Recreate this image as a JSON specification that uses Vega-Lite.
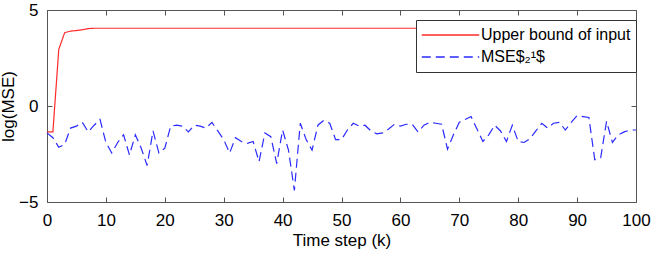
{
  "$schema": "https://vega.github.io/schema/vega-lite/v6.json",
  "autosize": "none",
  "padding": {"left": 47, "top": 10, "right": 20, "bottom": 53},
  "width": 589,
  "height": 192,
  "background": "white",
  "config": {
    "view": {"stroke": "#555555", "strokeWidth": 1},
    "font": "Liberation Sans"
  },
  "data": {"values": [
    {"k":0,"upper":-1.35,"mse":-1.4},{"k":1,"upper":-1.35,"mse":-1.65},{"k":2,"upper":2.95,"mse":-2.15},{"k":3,"upper":3.82,"mse":-2.0},{"k":4,"upper":3.9,"mse":-1.15},
    {"k":5,"upper":3.93,"mse":-1.05},{"k":6,"upper":3.97,"mse":-0.85},{"k":7,"upper":4.03,"mse":-1.35},{"k":8,"upper":4.05,"mse":-1.0},{"k":9,"upper":4.05,"mse":-0.7},
    {"k":10,"upper":4.05,"mse":-1.9},{"k":11,"upper":4.05,"mse":-2.45},{"k":12,"upper":4.05,"mse":-1.9},{"k":13,"upper":4.05,"mse":-1.5},{"k":14,"upper":4.05,"mse":-2.55},
    {"k":15,"upper":4.05,"mse":-1.5},{"k":16,"upper":4.05,"mse":-2.2},{"k":17,"upper":4.05,"mse":-3.1},{"k":18,"upper":4.05,"mse":-1.3},{"k":19,"upper":4.05,"mse":-2.45},
    {"k":20,"upper":4.05,"mse":-2.2},{"k":21,"upper":4.05,"mse":-1.05},{"k":22,"upper":4.05,"mse":-1.0},{"k":23,"upper":4.05,"mse":-1.05},{"k":24,"upper":4.05,"mse":-1.35},
    {"k":25,"upper":4.05,"mse":-1.0},{"k":26,"upper":4.05,"mse":-1.05},{"k":27,"upper":4.05,"mse":-1.15},{"k":28,"upper":4.05,"mse":-0.85},{"k":29,"upper":4.05,"mse":-1.3},
    {"k":30,"upper":4.05,"mse":-1.75},{"k":31,"upper":4.05,"mse":-2.45},{"k":32,"upper":4.05,"mse":-1.65},{"k":33,"upper":4.05,"mse":-1.85},{"k":34,"upper":4.05,"mse":-1.95},
    {"k":35,"upper":4.05,"mse":-1.85},{"k":36,"upper":4.05,"mse":-2.9},{"k":37,"upper":4.05,"mse":-1.4},{"k":38,"upper":4.05,"mse":-1.6},{"k":39,"upper":4.05,"mse":-3.0},
    {"k":40,"upper":4.05,"mse":-1.25},{"k":41,"upper":4.05,"mse":-2.3},{"k":42,"upper":4.05,"mse":-4.4},{"k":43,"upper":4.05,"mse":-0.9},{"k":44,"upper":4.05,"mse":-1.75},
    {"k":45,"upper":4.05,"mse":-2.3},{"k":46,"upper":4.05,"mse":-1.0},{"k":47,"upper":4.05,"mse":-0.75},{"k":48,"upper":4.05,"mse":-0.9},{"k":49,"upper":4.05,"mse":-1.75},
    {"k":50,"upper":4.05,"mse":-1.75},{"k":51,"upper":4.05,"mse":-1.25},{"k":52,"upper":4.05,"mse":-0.9},{"k":53,"upper":4.05,"mse":-1.05},{"k":54,"upper":4.05,"mse":-1.0},
    {"k":55,"upper":4.05,"mse":-1.3},{"k":56,"upper":4.05,"mse":-1.45},{"k":57,"upper":4.05,"mse":-1.4},{"k":58,"upper":4.05,"mse":-1.2},{"k":59,"upper":4.05,"mse":-0.95},
    {"k":60,"upper":4.05,"mse":-1.05},{"k":61,"upper":4.05,"mse":-0.95},{"k":62,"upper":4.05,"mse":-0.95},{"k":63,"upper":4.05,"mse":-1.35},{"k":64,"upper":4.05,"mse":-1.0},
    {"k":65,"upper":4.05,"mse":-0.85},{"k":66,"upper":4.05,"mse":-0.9},{"k":67,"upper":4.05,"mse":-0.95},{"k":68,"upper":4.05,"mse":-2.25},{"k":69,"upper":4.05,"mse":-1.5},
    {"k":70,"upper":4.05,"mse":-0.85},{"k":71,"upper":4.05,"mse":-0.7},{"k":72,"upper":4.05,"mse":-0.55},{"k":73,"upper":4.05,"mse":-1.2},{"k":74,"upper":4.05,"mse":-1.85},
    {"k":75,"upper":4.05,"mse":-1.5},{"k":76,"upper":4.05,"mse":-1.0},{"k":77,"upper":4.05,"mse":-1.3},{"k":78,"upper":4.05,"mse":-1.85},{"k":79,"upper":4.05,"mse":-1.0},
    {"k":80,"upper":4.05,"mse":-1.85},{"k":81,"upper":4.05,"mse":-1.9},{"k":82,"upper":4.05,"mse":-1.7},{"k":83,"upper":4.05,"mse":-1.3},{"k":84,"upper":4.05,"mse":-0.9},
    {"k":85,"upper":4.05,"mse":-1.15},{"k":86,"upper":4.05,"mse":-0.9},{"k":87,"upper":4.05,"mse":-0.85},{"k":88,"upper":4.05,"mse":-1.25},{"k":89,"upper":4.05,"mse":-0.85},
    {"k":90,"upper":4.05,"mse":-0.5},{"k":91,"upper":4.05,"mse":-0.55},{"k":92,"upper":4.05,"mse":-0.6},{"k":93,"upper":4.05,"mse":-2.8},{"k":94,"upper":4.05,"mse":-2.7},
    {"k":95,"upper":4.05,"mse":-0.8},{"k":96,"upper":4.05,"mse":-1.9},{"k":97,"upper":4.05,"mse":-1.5},{"k":98,"upper":4.05,"mse":-1.35},{"k":99,"upper":4.05,"mse":-1.25},
    {"k":100,"upper":4.05,"mse":-1.25}
  ]},
  "transform": [{"fold": ["upper", "mse"], "as": ["series", "value"]}],
  "layer": [
    {
      "mark": {"type": "line", "strokeWidth": 1.2},
      "encoding": {
        "x": {
          "field": "k", "type": "quantitative",
          "scale": {"domain": [0, 100], "nice": false, "zero": false},
          "axis": {"orient": "bottom", "values": [0,10,20,30,40,50,60,70,80,90,100], "title": "Time step (k)",
            "grid": false, "domain": false, "tickSize": -5, "tickColor": "#555555", "labelPadding": 15,
            "labelFontSize": 17, "labelColor": "black", "titleFontSize": 17, "titleFontWeight": "normal", "titleColor": "black", "titlePadding": 4, "labelFlush": false}
        },
        "y": {
          "field": "value", "type": "quantitative",
          "scale": {"domain": [-5, 5], "nice": false},
          "axis": {"orient": "left", "values": [-5, 0, 5], "title": "log(MSE)",
            "grid": false, "domain": false, "tickSize": -5, "tickColor": "#555555", "labelPadding": 14,
            "labelFontSize": 17, "labelColor": "black", "titleFontSize": 17, "titleFontWeight": "normal", "titleColor": "black", "titlePadding": 1}
        },
        "color": {
          "field": "series", "type": "nominal",
          "scale": {"domain": ["upper", "mse"], "range": ["#ff2a2a", "#2a2aff"]},
          "legend": {
            "orient": "none", "legendX": 369, "legendY": 10, "title": null,
            "labelExpr": "datum.value == 'upper' ? 'Upper bound of input' : 'MSE$₂¹$'",
            "symbolType": "stroke", "symbolSize": 3300, "symbolStrokeWidth": 1.5, "clipHeight": 20,
            "labelFontSize": 16, "labelColor": "black", "strokeColor": "#333333", "fillColor": "white",
            "padding": 5, "rowPadding": 2, "labelOffset": 1
          }
        },
        "strokeDash": {
          "field": "series", "type": "nominal",
          "scale": {"domain": ["upper", "mse"], "range": [[1, 0], [9, 5]]},
          "legend": null
        }
      }
    },
    {
      "mark": {"type": "line", "opacity": 0},
      "encoding": {
        "x": {"field": "k", "type": "quantitative",
          "axis": {"orient": "top", "values": [0,10,20,30,40,50,60,70,80,90,100], "labels": false, "title": null, "grid": false, "domain": false, "tickSize": -5, "tickColor": "#555555"}},
        "y": {"field": "value", "type": "quantitative",
          "axis": {"orient": "right", "values": [-5, 0, 5], "labels": false, "title": null, "grid": false, "domain": false, "tickSize": -5, "tickColor": "#555555"}},
        "detail": {"field": "series", "type": "nominal"}
      }
    }
  ],
  "resolve": {"axis": {"x": "independent", "y": "independent"}}
}
